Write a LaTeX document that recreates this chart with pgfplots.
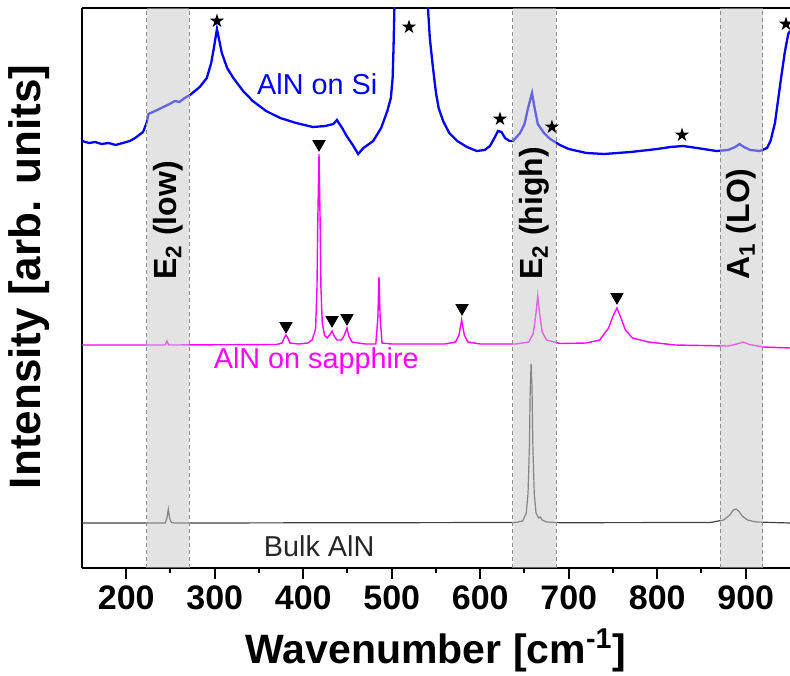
\documentclass[border=0pt]{standalone}
\usepackage{fontspec}
\setmainfont{Liberation Sans}
\usepackage{pgfplots}
\pgfplotsset{compat=1.18}

\definecolor{siblue}{RGB}{0,0,255}
\definecolor{sapph}{RGB}{255,0,255}
\definecolor{bulkgray}{RGB}{64,64,64}
\definecolor{bandfill}{RGB}{200,200,200}
\definecolor{bandedge}{RGB}{140,140,140}

% filled five-pointed star
\pgfdeclareplotmark{fstar}{%
  \pgfpathmoveto{\pgfpointpolar{90}{\pgfplotmarksize}}%
  \pgfpathlineto{\pgfpointpolar{126}{0.382*\pgfplotmarksize}}%
  \pgfpathlineto{\pgfpointpolar{162}{\pgfplotmarksize}}%
  \pgfpathlineto{\pgfpointpolar{198}{0.382*\pgfplotmarksize}}%
  \pgfpathlineto{\pgfpointpolar{234}{\pgfplotmarksize}}%
  \pgfpathlineto{\pgfpointpolar{270}{0.382*\pgfplotmarksize}}%
  \pgfpathlineto{\pgfpointpolar{306}{\pgfplotmarksize}}%
  \pgfpathlineto{\pgfpointpolar{342}{0.382*\pgfplotmarksize}}%
  \pgfpathlineto{\pgfpointpolar{18}{\pgfplotmarksize}}%
  \pgfpathlineto{\pgfpointpolar{54}{0.382*\pgfplotmarksize}}%
  \pgfpathclose
  \pgfusepathqfill
}

\begin{document}
\begin{tikzpicture}
\begin{axis}[
    name=ax,
    scale only axis,
    width=354pt,
    height=280pt,
    xmin=150, xmax=950,
    ymin=0, ymax=560,
    axis x line*=box,
    axis y line*=left,
    axis line style={line width=1.25pt},
    xtick={200,300,...,900},
    minor x tick num=1,
    ytick=\empty,
    tick pos=left,
    tick align=outside,
    major tick length=5.5pt,
    minor tick length=2.5pt,
    every tick/.style={line width=1pt, black},
    /pgf/number format/assume math mode=true,
    tick label style={font=\fontsize{17}{20}\selectfont\bfseries},
    xlabel={Wavenumber [cm\textsuperscript{-1}]},
    xlabel style={font=\fontsize{20.5}{24}\selectfont\bfseries,
        at={(rel axis cs:0.5,0)}, anchor=center, yshift=-41pt},
    ylabel={Intensity [arb. units]},
    ylabel style={font=\fontsize{22}{26}\selectfont\bfseries,
        at={([xshift=-26.5pt]rel axis cs:0,0.52)}, anchor=center},
]
% AlN on Si
\addplot[siblue, line width=1.15pt] coordinates {
(150,427) (158,425) (165,426) (172,424) (180,425) (188,423) (196,425)
(204,427) (210,430) (219,436) (223,445)
(225,454) (235,458) (242,461) (249,464) (255,467) (260,466) (266,470)
(272,473) (283,481) (291,490)
(296,505) (299,520) (302.5,539) (305,528) (308,515) (314,500) (321,490)
(332,477) (343,467) (358,457) (374,450) (392,445) (411,441) (425,442)
(434,444) (438,448) (444,440) (449,432) (456,423) (462,414) (468,420)
(479,427) (488,440) (495,457) (499,470) (501,490) (502,520) (503,560)
(505,620) (512,900) (520,1500) (528,900) (535,650) (539,590) (541,559)
(543,530) (546.6,500) (550,475) (553,460) (558,447) (565,435) (574,427)
(585,421) (596,417) (605,418) (611,422) (616,430) (620,437) (624,436)
(628,430) (633,427) (637,427) (645,435) (650,444) (654,460) (658.5,475)
(661,462) (665,444) (672,435) (679,429) (690,423) (700,419) (720,415)
(740,414) (770,416) (800,419) (815,421) (829,422) (845,420) (867,417)
(880,418) (888,421) (893,424) (898,421) (905,418) (916,417) (924,420)
(928,427) (933,445) (939,484) (944,515) (948,534) (950,537)
};
% AlN on sapphire
\addplot[sapph, line width=0.7pt] coordinates {
(150,223) (240,223) (244,223) (246,227) (248,223) (370,223.5) (376,225)
(379,231) (380.5,233) (382,231) (385,225) (395,224) (405,225) (410,228)
(413,236) (414,240) (415.5,280) (416.5,350) (417.8,414) (419,350)
(420,280) (421.5,245) (424,233) (427,230) (430,233) (432.5,237) (435,232)
(438,228) (443,228) (446,232) (449.4,240) (451.5,232) (455,226) (470,224)
(482,224) (484.3,250) (485.6,291) (486.9,250) (489,225) (500,224)
(560,224) (572,226) (576,233) (579,248) (582,233) (586,226) (600,224)
(640,224) (655,226) (660,235) (663,255) (665,272) (667,255) (670,236)
(675,228) (690,224.5) (720,225) (735,228) (745,240) (750,252) (754.5,260)
(759,250) (764,238) (772,230) (790,226) (820,223) (880,222) (890,224)
(897,226) (904,223.5) (920,221) (950,220)
};
% Bulk AlN
\addplot[bulkgray, line width=0.6pt] coordinates {
(150,45) (244,45) (246,50) (247.5,59) (249,50) (251,45.5) (255,45)
(640,45.5) (648,47) (652,55) (654,75) (655.5,120) (656.5,180) (657.5,204)
(658.5,180) (659.5,120) (661,75) (663,55) (666,50) (668,51) (670,48)
(675,46) (690,45.3) (860,45.5) (875,48) (882,53) (886,58) (889,59)
(892,57) (896,52) (902,48) (912,46) (950,45)
};
% shaded mode bands
\addplot[draw=none, fill=bandfill, fill opacity=0.5] coordinates {(223,0) (271,0) (271,560) (223,560)};
\addplot[draw=none, fill=bandfill, fill opacity=0.5] coordinates {(637,0) (685.6,0) (685.6,560) (637,560)};
\addplot[draw=none, fill=bandfill, fill opacity=0.5] coordinates {(871,0) (919,0) (919,560) (871,560)};
\addplot[bandedge, line width=0.5pt, dash pattern=on 2pt off 1.5pt] coordinates {(223,0) (223,560)};
\addplot[bandedge, line width=0.5pt, dash pattern=on 2pt off 1.5pt] coordinates {(271,0) (271,560)};
\addplot[bandedge, line width=0.5pt, dash pattern=on 2pt off 1.5pt] coordinates {(637,0) (637,560)};
\addplot[bandedge, line width=0.5pt, dash pattern=on 2pt off 1.5pt] coordinates {(685.6,0) (685.6,560)};
\addplot[bandedge, line width=0.5pt, dash pattern=on 2pt off 1.5pt] coordinates {(871,0) (871,560)};
\addplot[bandedge, line width=0.5pt, dash pattern=on 2pt off 1.5pt] coordinates {(919,0) (919,560)};
% Si peaks
\addplot[only marks, mark=fstar, mark size=3.7pt, black] coordinates {
(302.5,547) (519.5,541) (622.3,449) (681,441) (828,433) (945.5,544)
};
% sapphire peaks
\addplot[only marks, mark=triangle*, mark size=3.5pt, black,
    mark options={rotate=180}] coordinates {
(417.8,424) (380.5,242) (432.5,248) (449.4,250) (579.4,260) (754.5,271)
};
\node[siblue, font=\fontsize{14.4}{17}\selectfont] at (axis cs:415.8,484) {AlN on Si};
\node[sapph, font=\fontsize{14.4}{17}\selectfont] at (axis cs:414.7,207) {AlN on sapphire};
\node[black!85, font=\fontsize{14.4}{17}\selectfont] at (axis cs:418,22) {Bulk AlN};
\node[rotate=90, anchor=west, inner sep=0pt, font=\fontsize{16}{19}\selectfont\bfseries] at (axis cs:247,288) {E\textsubscript{2} (low)};
\node[rotate=90, anchor=west, inner sep=0pt, font=\fontsize{16}{19}\selectfont\bfseries] at (axis cs:661.3,288) {E\textsubscript{2} (high)};
\node[rotate=90, anchor=west, inner sep=0pt, font=\fontsize{16}{19}\selectfont\bfseries] at (axis cs:895,288) {A\textsubscript{1} (LO)};
\end{axis}
\pgfresetboundingbox
\path[use as bounding box] ([shift={(-41pt,-53.5pt)}]ax.south west) rectangle ([shift={(0pt,4pt)}]ax.north east);
\end{tikzpicture}
\end{document}
